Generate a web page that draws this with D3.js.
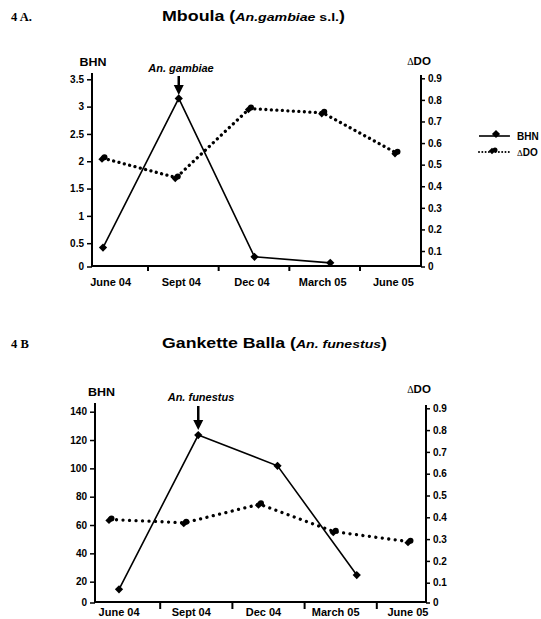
<!DOCTYPE html>
<html><head><meta charset="utf-8">
<script src="https://cdn.jsdelivr.net/npm/d3@7"></script>
<style>body{margin:0;background:#fff}svg{display:block}</style>
</head><body>
<svg id="c" width="541" height="619"></svg>
<script>
// ---- data ----
const months = ["June 04", "Sept 04", "Dec 04", "March 05", "June 05"];
const bhnA = [0.42, 3.15, 0.25, 0.14, null];
const doA  = [0.53, 0.44, 0.76, 0.74, 0.555];
const bhnB = [14.6, 123.5, 101.8, 24.7, null];
const doB  = [0.39, 0.375, 0.46, 0.334, 0.288];
const bhnTicksA = [0, 0.5, 1, 1.5, 2, 2.5, 3, 3.5];
const bhnTicksB = [0, 20, 40, 60, 80, 100, 120, 140];
const doTicks = [0, 0.1, 0.2, 0.3, 0.4, 0.5, 0.6, 0.7, 0.8, 0.9];
const seriesNames = ["BHN", "ΔDO"];
const speciesA = "An. gambiae";
const speciesB = "An. funestus";

const svg = d3.select("#c");
const SANS = "'Liberation Sans', Arial, sans-serif";
const rhomb = d3.symbol(d3.symbolSquare, 34)();

// titles
function title(y, tag, main, ital, rest, len) {
  svg.append("text").attr("x", 11).attr("y", y)
    .attr("font-family", "'Liberation Serif', 'Times New Roman', serif")
    .attr("font-weight", "bold").attr("font-size", 12.5).text(tag);
  const t = svg.append("text").attr("x", 162).attr("y", y)
    .attr("font-family", SANS).attr("font-weight", "bold")
    .attr("textLength", len).attr("lengthAdjust", "spacingAndGlyphs");
  t.append("tspan").attr("font-size", 14.5).text(main + " (");
  t.append("tspan").attr("font-size", 11.5).attr("font-style", "italic").text(ital);
  if (rest) t.append("tspan").attr("font-size", 11.5).text(rest);
  t.append("tspan").attr("font-size", 14.5).text(")");
}
title(21, "4 A.", "Mboula", "An.gambiae", " s.l.", 183);
title(348, "4 B", "Gankette Balla", "An. funestus", null, 225);

function chart(cfg) {
  const g = svg.append("g");
  const yL = d3.scaleLinear().domain([0, cfg.lMax]).range([cfg.l0, cfg.lTop]);
  const yR = d3.scaleLinear().domain([0, 0.9]).range([cfg.r0, cfg.rTop]);
  const xBand = d3.scaleBand().domain(months).range(cfg.band);
  const xB = d3.scalePoint().domain(months).range(cfg.bhnX);
  const xD = d3.scalePoint().domain(months).range(cfg.doX);

  // axes lines
  g.append("line").attr("x1", cfg.left).attr("x2", cfg.left).attr("y1", cfg.top).attr("y2", cfg.bottom)
    .attr("stroke", "#000").attr("stroke-width", 2);
  g.append("line").attr("x1", cfg.right).attr("x2", cfg.right).attr("y1", cfg.top + 2).attr("y2", cfg.bottom)
    .attr("stroke", "#000").attr("stroke-width", 2);
  g.append("line").attr("x1", cfg.left - 1).attr("x2", cfg.right + 1).attr("y1", cfg.bottom).attr("y2", cfg.bottom)
    .attr("stroke", "#000").attr("stroke-width", 2);

  // left axis
  const la = g.append("g").attr("transform", `translate(${cfg.left},0)`)
    .call(d3.axisLeft(yL).tickValues(cfg.lTicks).tickSize(5).tickPadding(3).tickFormat(d3.format("")));
  la.selectAll(".tick").filter(d => d === 0).attr("transform", `translate(0,${cfg.bottom + 1})`);
  la.select(".domain").remove();
  // right axis
  const ra = g.append("g").attr("transform", `translate(${cfg.right},0)`)
    .call(d3.axisRight(yR).tickValues(doTicks).tickSize(4).tickPadding(3).tickFormat(d3.format("")));
  ra.selectAll(".tick").filter(d => d === 0).attr("transform", `translate(0,${cfg.bottom + 1})`);
  ra.select(".domain").remove();
  [la, ra].forEach(a => {
    a.selectAll("text").attr("font-family", SANS).attr("font-weight", "bold").attr("font-size", 10).attr("fill", "#000");
    a.selectAll("line").attr("stroke", "#000").attr("stroke-width", 1.5);
  });

  // x axis ticks at band boundaries, labels at band centers
  const bounds = months.slice(1).map(m => xBand(m));
  g.selectAll(".xt").data(bounds).join("line")
    .attr("x1", d => d).attr("x2", d => d).attr("y1", cfg.bottom).attr("y2", cfg.bottom + cfg.tickDown)
    .attr("stroke", "#000").attr("stroke-width", 2);
  g.selectAll(".xl").data(months).join("text")
    .attr("x", d => xBand(d) + xBand.bandwidth() / 2 + cfg.labShift)
    .attr("y", cfg.bottom + cfg.labDy)
    .attr("text-anchor", "middle").attr("font-family", SANS).attr("font-weight", "bold")
    .attr("font-size", 11).text(d => d);

  // axis titles
  g.append("text").attr("x", cfg.bhnLab[0]).attr("y", cfg.bhnLab[1]).attr("text-anchor", "middle")
    .attr("font-family", SANS).attr("font-weight", "bold").attr("font-size", 11.5)
    .attr("textLength", 27).attr("lengthAdjust", "spacingAndGlyphs").text(seriesNames[0]);
  const dl = g.append("text").attr("x", cfg.doLab[0]).attr("y", cfg.doLab[1]).attr("text-anchor", "middle");
  dl.append("tspan").attr("font-family", "'Liberation Serif', serif").attr("font-size", 10).text("Δ");
  dl.append("tspan").attr("font-family", SANS).attr("font-weight", "bold").attr("font-size", 11.5).text("DO");

  // ΔDO dotted line
  const dPts = months.map((m, i) => [xD(m), cfg.doVals[i] == null ? null : yR(cfg.doVals[i])]).filter(p => p[1] != null);
  g.append("path").attr("d", d3.line()(dPts)).attr("fill", "none").attr("stroke", "#000")
    .attr("stroke-width", 3.3).attr("stroke-linecap", "round").attr("stroke-dasharray", `0.01 ${cfg.dotGap}`);
  // BHN solid line
  const bPts = months.map((m, i) => [xB(m), cfg.bhnVals[i] == null ? null : yL(cfg.bhnVals[i])]).filter(p => p[1] != null);
  g.append("path").attr("d", d3.line()(bPts)).attr("fill", "none").attr("stroke", "#000").attr("stroke-width", 1.6);

  g.selectAll(".bm").data(bPts).join("path").attr("d", rhomb)
    .attr("transform", d => `translate(${d[0]},${d[1]}) rotate(45)`).attr("fill", "#000");
  const dm = g.selectAll(".dm").data(dPts).join("g").attr("transform", d => `translate(${d[0]},${d[1]})`);
  dm.append("path").attr("d", d3.symbol(d3.symbolSquare, 26)()).attr("transform", "translate(-1,1) rotate(45)").attr("fill", "#000");
  dm.append("circle").attr("cx", 1.5).attr("cy", -1).attr("r", 3).attr("fill", "#000");

  // annotation + arrow
  const ax = xB(months[1]);
  g.append("text").attr("x", cfg.annX).attr("y", cfg.annY).attr("text-anchor", "middle")
    .attr("font-family", SANS).attr("font-weight", "bold").attr("font-style", "italic").attr("font-size", 11)
    .text(cfg.species);
  g.append("line").attr("x1", ax).attr("x2", ax).attr("y1", cfg.arrow[0]).attr("y2", cfg.arrow[1] - 8)
    .attr("stroke", "#000").attr("stroke-width", 2.5);
  g.append("path").attr("d", `M${ax - 5},${cfg.arrow[1] - 10}L${ax + 5},${cfg.arrow[1] - 10}L${ax},${cfg.arrow[1]}Z`)
    .attr("fill", "#000");
}

chart({
  left: 92, right: 421, top: 73, bottom: 266,
  lMax: 3.5, l0: 270.5, lTop: 79.3, lTicks: bhnTicksA,
  r0: 272.6, rTop: 78.3,
  band: [77.3, 430.7], bhnX: [103, 406], doX: [103, 396],
  tickDown: 5, labDy: 20, labShift: -2,
  bhnVals: bhnA, doVals: doA, dotGap: 5.5,
  bhnLab: [93, 66], doLab: [419, 65],
  species: speciesA, annX: 181, annY: 72, arrow: [76, 95]
});
chart({
  left: 95, right: 426, top: 403, bottom: 602,
  lMax: 140, l0: 610, lTop: 411.7, lTicks: bhnTicksB,
  r0: 604.5, rTop: 408.3,
  band: [88, 449], bhnX: [119, 436], doX: [110, 409],
  tickDown: 7, labDy: 14, labShift: -5,
  bhnVals: bhnB, doVals: doB, dotGap: 6.5,
  bhnLab: [101.5, 396], doLab: [419, 393],
  species: speciesB, annX: 201, annY: 401, arrow: [406, 430]
});

// legend
const lg = svg.append("g");
lg.append("line").attr("x1", 479).attr("x2", 510).attr("y1", 136).attr("y2", 136).attr("stroke", "#000").attr("stroke-width", 1.6);
lg.append("path").attr("d", rhomb).attr("transform", "translate(496,134) rotate(45)").attr("fill", "#000");
lg.append("line").attr("x1", 479).attr("x2", 510).attr("y1", 152).attr("y2", 152).attr("stroke", "#000")
  .attr("stroke-width", 2).attr("stroke-linecap", "round").attr("stroke-dasharray", "0.01 3.3");
lg.append("path").attr("d", d3.symbol(d3.symbolSquare, 22)()).attr("transform", "translate(492,151) rotate(45)").attr("fill", "#000");
lg.append("circle").attr("cx", 495).attr("cy", 150).attr("r", 2.5).attr("fill", "#000");
lg.append("text").attr("x", 517).attr("y", 140).attr("font-family", SANS).attr("font-weight", "bold").attr("font-size", 10).text(seriesNames[0]);
const lt = lg.append("text").attr("x", 517).attr("y", 156);
lt.append("tspan").attr("font-family", "'Liberation Serif', serif").attr("font-size", 9).text("Δ");
lt.append("tspan").attr("font-family", SANS).attr("font-weight", "bold").attr("font-size", 10).text("DO");
</script>
</body></html>
